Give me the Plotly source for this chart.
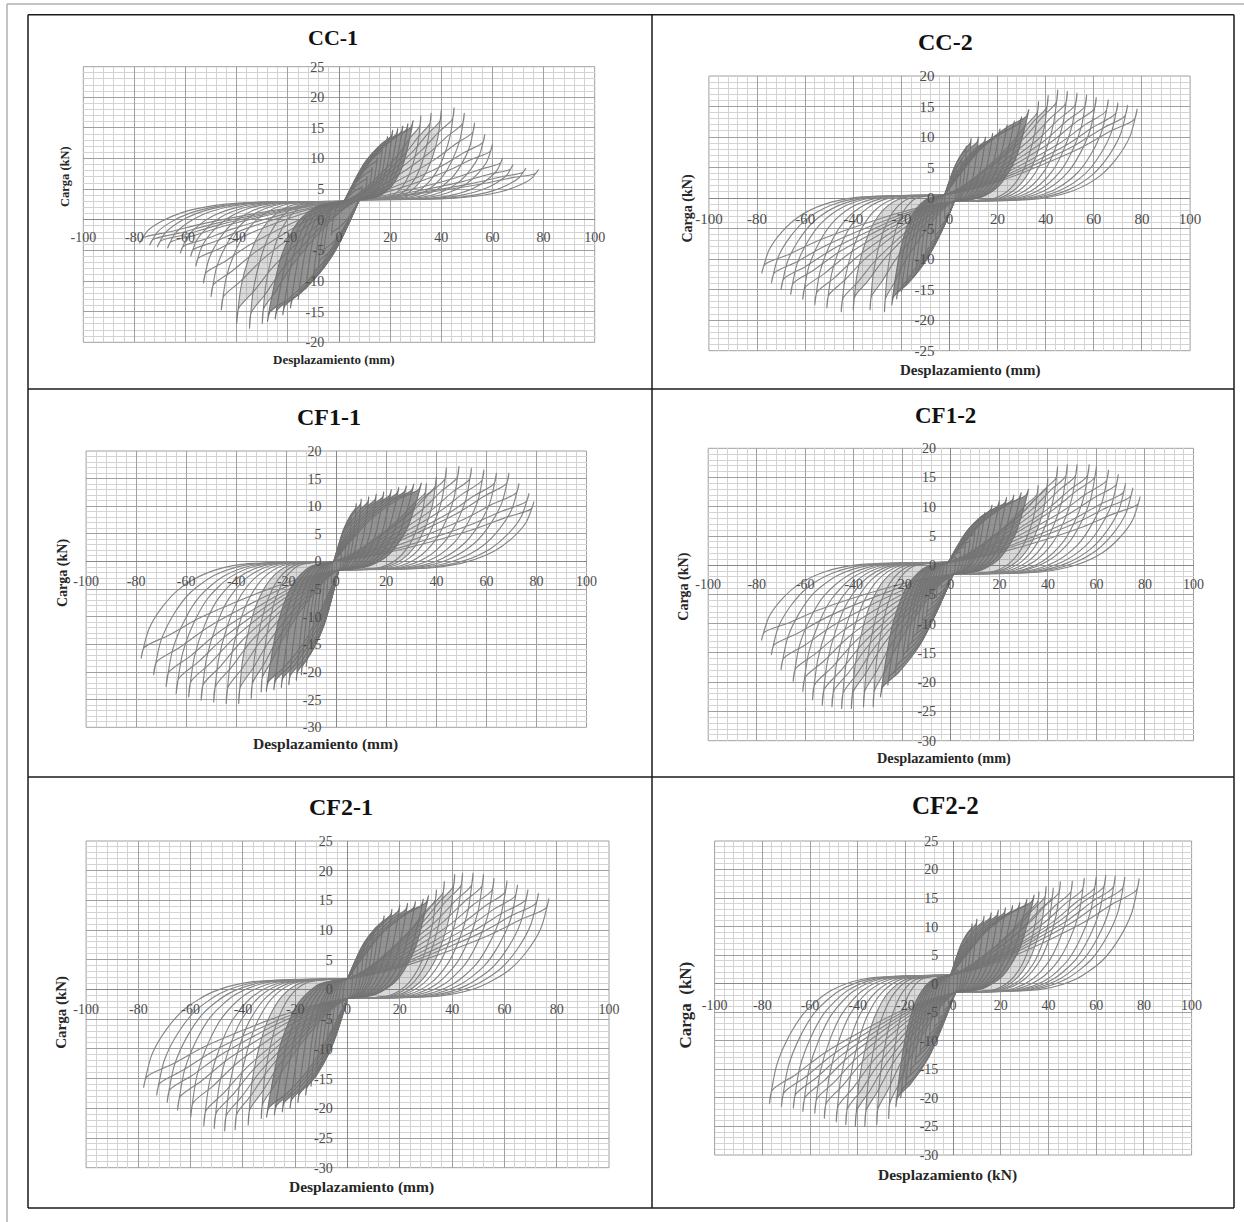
import plotly.graph_objects as go

W, H = 1244, 1222

# ---------------- data (peak displacement mm / load kN) ----------------
# CC-1
CC1_pos_disp = [32, 36, 40, 45, 49, 53, 57, 60, 64, 68, 73, 78]
CC1_pos_load = [17.0, 17.4, 17.9, 18.3, 17.4, 15.8, 13.9, 12.3, 10.1, 9.0, 8.4, 8.2]
CC1_neg_disp = [-30, -35, -40, -46, -50, -53, -56, -58, -62, -67, -71, -74, -78]
CC1_neg_load = [-16.9, -17.7, -16.9, -14.7, -12.5, -10.3, -7.6, -6.0, -5.4, -4.6, -4.4, -4.1, -3.8]
CC1_small_pos_disp = [9, 11, 13, 15, 17, 19, 21, 23, 25, 27, 29]
CC1_small_pos_load = [5.5, 7.0, 8.6, 10.2, 11.9, 13.6, 14.6, 14.9, 15.3, 15.7, 16.2]
CC1_small_neg_disp = [-3, -6, -8, -10, -13, -16, -19, -22, -25, -28]
CC1_small_neg_load = [-2.5, -5.5, -7.5, -9.3, -11.3, -13.0, -14.4, -15.5, -16.2, -16.6]
CC1_pinch_a = [8, 3.3]
CC1_pinch_b = [2, 3.0]

# CC-2
CC2_pos_disp = [37, 41, 45, 49, 53, 57, 61, 66, 70, 74, 78]
CC2_pos_load = [15.8, 16.8, 17.7, 17.5, 17.2, 16.9, 16.5, 16.1, 15.6, 15.2, 14.6]
CC2_neg_disp = [-27, -33, -40, -45, -51, -56, -61, -66, -70, -74, -78]
CC2_neg_load = [-18.6, -18.3, -18.3, -18.6, -18.0, -17.5, -16.6, -15.8, -15.0, -13.9, -12.3]
CC2_small_pos_disp = [3, 5, 7, 9, 12, 15, 18, 21, 24, 27, 30, 33]
CC2_small_pos_load = [4.5, 6.5, 8.5, 9.8, 10.0, 10.0, 10.6, 11.3, 12.0, 12.6, 13.3, 14.5]
CC2_small_neg_disp = [-2, -4, -6, -8, -10, -12, -14, -16, -18, -20, -22, -24]
CC2_small_neg_load = [-3.5, -5.0, -6.5, -8.0, -9.3, -10.6, -11.8, -13.0, -14.2, -15.4, -16.5, -17.5]
CC2_pinch_a = [2, -0.5]
CC2_pinch_b = [-2, 0.5]

# CF1-1
CF11_pos_disp = [36, 40, 44, 49, 54, 59, 64, 69, 73, 77, 79]
CF11_pos_load = [14.1, 15.3, 16.9, 17.2, 16.9, 16.6, 16.0, 16.0, 14.1, 12.3, 10.8]
CF11_neg_disp = [-30, -34, -39, -44, -49, -54, -59, -64, -68, -73, -78]
CF11_neg_load = [-23.6, -24.8, -25.7, -25.7, -25.4, -25.1, -24.5, -23.9, -22.6, -20.5, -17.5]
CF11_small_pos_disp = [2, 4, 6, 8, 10, 13, 16, 19, 22, 25, 28, 31, 34]
CF11_small_pos_load = [1.5, 4.5, 8.0, 10.5, 11.3, 11.7, 12.2, 12.6, 13.0, 13.4, 13.7, 14.0, 14.2]
CF11_small_neg_disp = [-2, -4, -6, -8, -10, -12, -14, -16, -19, -22, -25, -28]
CF11_small_neg_load = [-4.0, -8.0, -11.0, -14.0, -16.5, -19.0, -20.5, -21.5, -22.3, -22.8, -23.2, -23.5]
CF11_pinch_a = [1, -1.5]
CF11_pinch_b = [-1, 0.0]

# CF1-2
CF12_pos_disp = [36, 40, 44, 48, 52, 57, 60, 65, 69, 72, 75, 78]
CF12_pos_load = [13.7, 14.9, 16.9, 17.2, 17.2, 17.2, 16.9, 16.3, 15.5, 14.0, 13.2, 11.7]
CF12_neg_disp = [-32, -36, -41, -45, -49, -53, -57, -61, -65, -70, -74, -78]
CF12_neg_load = [-24.2, -24.2, -24.5, -24.5, -24.2, -23.9, -23.0, -21.6, -19.9, -17.9, -15.3, -12.8]
CF12_small_pos_disp = [2, 4, 6, 8, 10, 12, 14, 17, 20, 23, 26, 29, 32]
CF12_small_pos_load = [1.5, 2.5, 3.5, 4.5, 5.8, 7.5, 9.0, 10.3, 11.0, 11.6, 12.0, 12.4, 13.0]
CF12_small_neg_disp = [-2, -4, -6, -8, -10, -12, -14, -16, -18, -20, -23, -26, -29]
CF12_small_neg_load = [-2.5, -4.0, -5.5, -7.0, -8.5, -10.0, -11.6, -13.2, -14.8, -16.4, -18.5, -20.5, -22.5]
CF12_pinch_a = [1, -1.5]
CF12_pinch_b = [-1, 0.5]

# CF2-1
CF21_pos_disp = [34, 37, 41, 44, 48, 52, 56, 61, 65, 69, 73, 77]
CF21_pos_load = [16.8, 18.2, 19.4, 19.6, 19.6, 19.4, 18.7, 18.3, 17.6, 16.8, 16.2, 15.3]
CF21_neg_disp = [-33, -38, -43, -47, -51, -55, -60, -65, -69, -73, -78]
CF21_neg_load = [-21.7, -22.8, -23.6, -23.8, -23.4, -23.0, -21.5, -20.3, -19.0, -17.8, -16.5]
CF21_small_pos_disp = [2, 4, 6, 8, 10, 12, 14, 17, 20, 23, 26, 29, 31]
CF21_small_pos_load = [3.0, 4.5, 6.0, 7.8, 9.5, 11.0, 12.4, 13.5, 14.2, 14.5, 14.8, 15.2, 15.8]
CF21_small_neg_disp = [-2, -4, -6, -8, -10, -12, -14, -16, -19, -22, -25, -28, -31]
CF21_small_neg_load = [-3.0, -5.0, -7.5, -10.0, -12.5, -14.5, -16.3, -17.8, -19.0, -20.0, -20.6, -21.1, -21.5]
CF21_pinch_a = [0, -1.5]
CF21_pinch_b = [0, 1.8]

# CF2-2
CF22_pos_disp = [36, 39, 42, 45, 50, 55, 60, 64, 68, 72, 78]
CF22_pos_load = [16.1, 17.0, 16.8, 17.9, 18.0, 18.5, 18.7, 19.0, 18.9, 18.7, 18.4]
CF22_neg_disp = [-27, -32, -37, -41, -45, -49, -54, -58, -63, -67, -72, -77]
CF22_neg_load = [-23.6, -24.7, -25.0, -25.0, -24.7, -24.2, -23.6, -22.7, -22.4, -21.8, -21.5, -21.0]
CF22_small_pos_disp = [2, 4, 6, 8, 10, 13, 16, 19, 22, 25, 28, 31, 34]
CF22_small_pos_load = [2.5, 5.0, 8.0, 10.5, 11.3, 11.8, 12.4, 12.9, 13.3, 13.7, 14.2, 14.8, 15.5]
CF22_small_neg_disp = [-2, -4, -6, -8, -10, -12, -14, -16, -18, -20, -22, -24]
CF22_small_neg_load = [-3.5, -5.0, -6.5, -8.0, -9.5, -11.0, -12.5, -14.0, -16.0, -18.0, -20.0, -21.5]
CF22_pinch_a = [1, -1.5]
CF22_pinch_b = [-1, 1.5]

# tick values (labels use a plain hyphen as in the reference)
X_TICKS = [-100, -80, -60, -40, -20, 0, 20, 40, 60, 80, 100]
Y_TICKS_CC1 = [-20, -15, -10, -5, 0, 5, 10, 15, 20, 25]
Y_TICKS_CC2 = [-25, -20, -15, -10, -5, 0, 5, 10, 15, 20]
Y_TICKS_CF1 = [-30, -25, -20, -15, -10, -5, 0, 5, 10, 15, 20]
Y_TICKS_CF2 = [-30, -25, -20, -15, -10, -5, 0, 5, 10, 15, 20, 25]

# branch shapes read from the loops (fraction of travel / fraction of load)
LOAD_T = [0, 0.48, 0.66, 0.8, 0.89, 0.96, 1]
LOAD_F = [0, 0.03, 0.12, 0.28, 0.47, 0.7, 1]
UNLOAD_T = [1, 0.985, 0.86, 0.7, 0.37, 0.15, 0]
UNLOAD_F = [1, 0.88, 0.74, 0.54, 0.23, 0.07, 0]
SMALL_LOAD_T = [0, 0.35, 0.6, 0.82, 1]
SMALL_LOAD_F = [0, 0.04, 0.17, 0.46, 1]
SMALL_UNLOAD_T = [1, 0.97, 0.75, 0.45, 0.2, 0]
SMALL_UNLOAD_F = [1, 0.92, 0.8, 0.57, 0.27, 0]
DENSE_LIMIT = 41  # loops reaching at most this displacement sit inside the dark mass

TITLES = ["CC-1", "CC-2", "CF1-1", "CF1-2", "CF2-1", "CF2-2"]
X_LABELS = ["Desplazamiento (mm)"] * 5 + ["Desplazamiento (kN)"]
Y_LABELS = ["Carga (kN)"] * 5 + ["Carga  (kN)"]

specimens = [
    (CC1_pos_disp, CC1_pos_load, CC1_neg_disp, CC1_neg_load, CC1_small_pos_disp, CC1_small_pos_load,
     CC1_small_neg_disp, CC1_small_neg_load, CC1_pinch_a, CC1_pinch_b, Y_TICKS_CC1),
    (CC2_pos_disp, CC2_pos_load, CC2_neg_disp, CC2_neg_load, CC2_small_pos_disp, CC2_small_pos_load,
     CC2_small_neg_disp, CC2_small_neg_load, CC2_pinch_a, CC2_pinch_b, Y_TICKS_CC2),
    (CF11_pos_disp, CF11_pos_load, CF11_neg_disp, CF11_neg_load, CF11_small_pos_disp, CF11_small_pos_load,
     CF11_small_neg_disp, CF11_small_neg_load, CF11_pinch_a, CF11_pinch_b, Y_TICKS_CF1),
    (CF12_pos_disp, CF12_pos_load, CF12_neg_disp, CF12_neg_load, CF12_small_pos_disp, CF12_small_pos_load,
     CF12_small_neg_disp, CF12_small_neg_load, CF12_pinch_a, CF12_pinch_b, Y_TICKS_CF1),
    (CF21_pos_disp, CF21_pos_load, CF21_neg_disp, CF21_neg_load, CF21_small_pos_disp, CF21_small_pos_load,
     CF21_small_neg_disp, CF21_small_neg_load, CF21_pinch_a, CF21_pinch_b, Y_TICKS_CF2),
    (CF22_pos_disp, CF22_pos_load, CF22_neg_disp, CF22_neg_load, CF22_small_pos_disp, CF22_small_pos_load,
     CF22_small_neg_disp, CF22_small_neg_load, CF22_pinch_a, CF22_pinch_b, Y_TICKS_CF2),
]

# ---------------- layout geometry (pixels) ----------------
panels = [
    dict(box=(83.3, 594.7, 66.7, 342.3), title=(333, 37), xt=(333.5, 359), yt=(65, 177),
         tfs=22, xfs=13, yfs=12.5, tick=14, xlen=4),
    dict(box=(708.9, 1190.1, 76.0, 350.7), title=(945, 42), xt=(969.8, 370), yt=(687.5, 208),
         tfs=24, xfs=15, yfs=14, tick=15, xlen=7),
    dict(box=(86.1, 586.5, 451.0, 727.3), title=(329, 417), xt=(325, 744), yt=(63, 573),
         tfs=24, xfs=15.5, yfs=14, tick=14, xlen=7),
    dict(box=(708.2, 1193.5, 448.3, 740.7), title=(945.6, 415), xt=(944.3, 758), yt=(683.7, 587),
         tfs=23, xfs=14.3, yfs=14, tick=14, xlen=6),
    dict(box=(86.1, 609.0, 841.0, 1167.7), title=(341, 807), xt=(361.8, 1187), yt=(60.8, 1012),
         tfs=24, xfs=15.5, yfs=15, tick=14, xlen=7),
    dict(box=(714.6, 1191.6, 841.0, 1155.0), title=(946, 805), xt=(947, 1175), yt=(685.6, 1005),
         tfs=25, xfs=15.5, yfs=17, tick=14, xlen=8),
]

SERIF = "Liberation Serif"


def half_loop(start, peak, end, lt, lf, ut, uf):
    sx, sy = start
    px, py = peak
    ex, ey = end
    xs = [sx + t * (px - sx) for t in lt]
    ys = [sy + f * (py - sy) for f in lf]
    xs += [ex + t * (px - ex) for t in ut[1:]]
    ys += [ey + f * (py - ey) for f in uf[1:]]
    return xs, ys


def loops(pdisp, pload, ndisp, nload, a, b, shape, keep):
    X, Y = [], []
    for d, f in zip(pdisp, pload):
        if keep(d):
            xs, ys = half_loop(a, (d, f), b, *shape)
            X += xs + [None]
            Y += ys + [None]
    for d, f in zip(ndisp, nload):
        if keep(d):
            xs, ys = half_loop(b, (d, f), a, *shape)
            X += xs + [None]
            Y += ys + [None]
    return X, Y


BIG = (LOAD_T, LOAD_F, UNLOAD_T, UNLOAD_F)
SMALL = (SMALL_LOAD_T, SMALL_LOAD_F, SMALL_UNLOAD_T, SMALL_UNLOAD_F)

fig = go.Figure()
annotations = []
shapes = []

for i, (p, spec) in enumerate(zip(panels, specimens), start=1):
    (pd_, pl_, nd_, nl_, spd, spl, snd, snl, pa, pb, yticks) = spec
    xa = "x" if i == 1 else f"x{i}"
    ya = "y" if i == 1 else f"y{i}"
    l, r, t, b = p["box"]
    ymin, ymax = yticks[0], yticks[-1]
    y0px = t + ymax / (ymax - ymin) * (b - t)
    x0px = (l + r) / 2

    # inner large cycles, lightly filled (dense hatch area)
    mx, my = loops(pd_, pl_, nd_, nl_, pa, pb, BIG, lambda d: abs(d) <= DENSE_LIMIT)
    fig.add_trace(go.Scatter(x=mx, y=my, xaxis=xa, yaxis=ya, mode="lines",
                             line=dict(color="#7e7e7e", width=1.1, shape="spline", smoothing=0.8),
                             fill="toself", fillcolor="rgba(120,120,120,0.28)",
                             hoverinfo="skip", showlegend=False))
    # outer large cycles
    lx, ly = loops(pd_, pl_, nd_, nl_, pa, pb, BIG, lambda d: abs(d) > DENSE_LIMIT)
    fig.add_trace(go.Scatter(x=lx, y=ly, xaxis=xa, yaxis=ya, mode="lines",
                             line=dict(color="#858585", width=1.15, shape="spline", smoothing=0.8),
                             hoverinfo="skip", showlegend=False))
    # small cycles (solid dark mass)
    sx, sy = loops(spd, spl, snd, snl, pa, pb, SMALL, lambda d: True)
    fig.add_trace(go.Scatter(x=sx, y=sy, xaxis=xa, yaxis=ya, mode="lines",
                             line=dict(color="#737373", width=1.2, shape="spline", smoothing=0.8),
                             fill="toself", fillcolor="rgba(112,112,112,0.75)",
                             hoverinfo="skip", showlegend=False))

    xkey = "xaxis" if i == 1 else f"xaxis{i}"
    ykey = "yaxis" if i == 1 else f"yaxis{i}"
    fig.layout[xkey] = dict(
        domain=[l / W, r / W], range=[X_TICKS[0], X_TICKS[-1]], anchor="free", position=1 - y0px / H,
        automargin=False, tickmode="array", tickvals=X_TICKS, ticktext=[str(v) for v in X_TICKS],
        showgrid=True, gridcolor="#a0a0a0", gridwidth=1,
        minor=dict(tick0=0, dtick=4, showgrid=True, gridcolor="#d3d3d3", gridwidth=1),
        zeroline=True, zerolinecolor="#888888", zerolinewidth=1, showline=False,
        ticks="outside", ticklen=p["xlen"], tickcolor="rgba(0,0,0,0)",
        tickfont=dict(family=SERIF, size=p["tick"], color="#4d4d4d"), fixedrange=True)
    fig.layout[ykey] = dict(
        domain=[1 - b / H, 1 - t / H], range=[ymin, ymax], anchor="free", position=x0px / W,
        automargin=False, tickmode="array", tickvals=yticks, ticktext=[str(v) for v in yticks],
        showgrid=True, gridcolor="#a0a0a0", gridwidth=1,
        minor=dict(tick0=0, dtick=1, showgrid=True, gridcolor="#d3d3d3", gridwidth=1),
        zeroline=True, zerolinecolor="#888888", zerolinewidth=1, showline=False,
        ticks="outside", ticklen=12, tickcolor="rgba(0,0,0,0)",
        tickfont=dict(family=SERIF, size=p["tick"], color="#4d4d4d"), fixedrange=True)

    shapes.append(dict(type="rect", xref=f"{xa} domain", yref=f"{ya} domain", x0=0, x1=1, y0=0, y1=1,
                       line=dict(color="#a0a0a0", width=1), layer="below"))

    annotations.append(dict(text=f"<b>{TITLES[i-1]}</b>", x=p["title"][0] / W, y=1 - p["title"][1] / H,
                            xref="paper", yref="paper", showarrow=False, xanchor="center", yanchor="middle",
                            font=dict(family=SERIF, size=p["tfs"], color="#111111")))
    annotations.append(dict(text=f"<b>{X_LABELS[i-1]}</b>", x=p["xt"][0] / W, y=1 - p["xt"][1] / H,
                            xref="paper", yref="paper", showarrow=False, xanchor="center", yanchor="middle",
                            font=dict(family=SERIF, size=p["xfs"], color="#262626")))
    annotations.append(dict(text=f"<b>{Y_LABELS[i-1]}</b>", x=p["yt"][0] / W, y=1 - p["yt"][1] / H,
                            xref="paper", yref="paper", showarrow=False, xanchor="center", yanchor="middle",
                            textangle=-90, font=dict(family=SERIF, size=p["yfs"], color="#262626")))


def px_line(x0, y0, x1, y1, color, width):
    return dict(type="line", xref="paper", yref="paper", x0=x0 / W, x1=x1 / W,
                y0=1 - y0 / H, y1=1 - y1 / H, line=dict(color=color, width=width), layer="above")


# outer page frame
shapes.append(px_line(7, 4, 1244, 4, "#b0b0b0", 1.5))
shapes.append(px_line(7, 4, 7, 1222, "#b0b0b0", 1.5))
# table borders
TL, TR, TT, TB = 28, 1234, 14.7, 1208
shapes.append(px_line(TL, TT, TR, TT, "#1a1a1a", 1.5))
shapes.append(px_line(TL, TB, TR, TB, "#1a1a1a", 1.5))
shapes.append(px_line(TL, TT, TL, TB, "#1a1a1a", 1.5))
shapes.append(px_line(TR, TT, TR, TB, "#1a1a1a", 1.5))
shapes.append(px_line(652, TT, 652, TB, "#1a1a1a", 1.5))
shapes.append(px_line(TL, 389, TR, 389, "#1a1a1a", 1.5))
shapes.append(px_line(TL, 777, TR, 777, "#1a1a1a", 1.5))

fig.update_layout(template="none", width=W, height=H, autosize=False, margin=dict(l=0, r=0, t=0, b=0, pad=0),
                  paper_bgcolor="white", plot_bgcolor="white", showlegend=False,
                  annotations=annotations, shapes=shapes)

fig.write_html("out.html", config={"displayModeBar": False},
               post_script="document.body.style.margin='0';document.body.style.overflow='hidden';")
